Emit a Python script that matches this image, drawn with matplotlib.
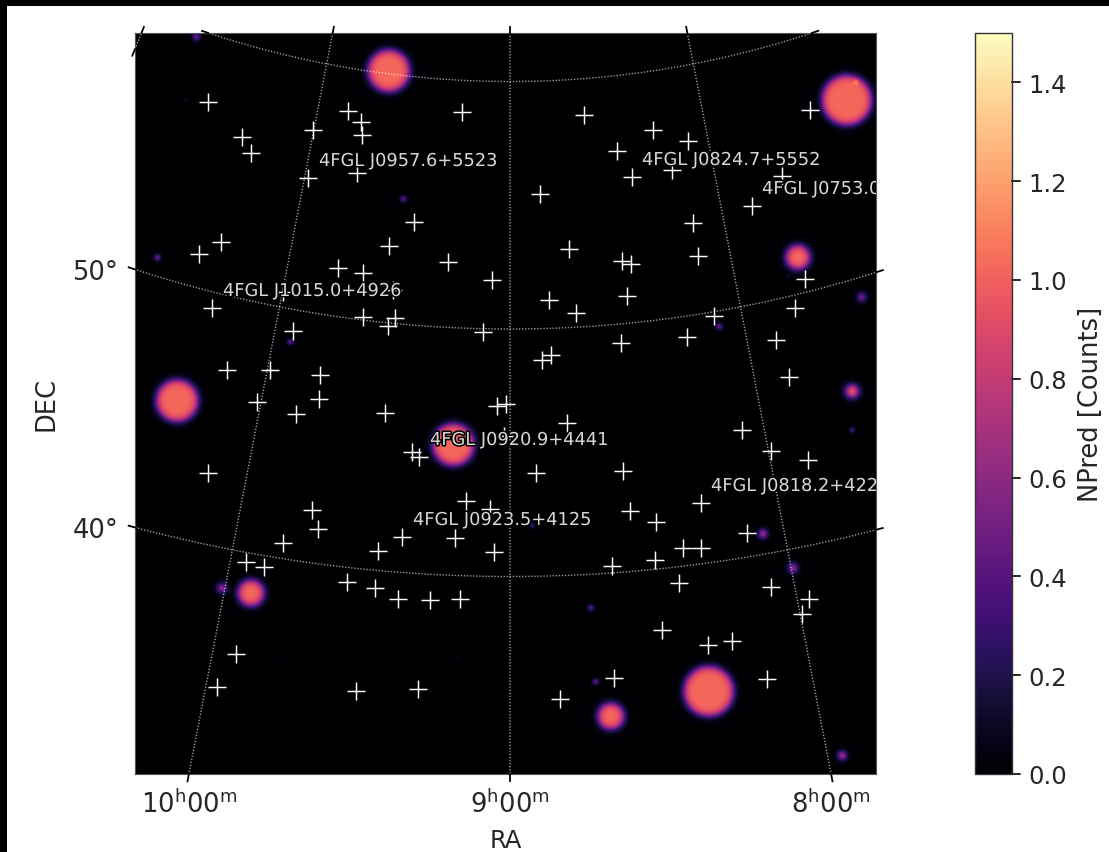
import numpy as np
import matplotlib
matplotlib.use('Agg')
import matplotlib.pyplot as plt
import matplotlib.patheffects as pe
from matplotlib.patches import Rectangle

# all map positions are in map pixels, same frame as the image array
map_xlim = (135, 876)
map_ylim = (775, 34)

# catalogue sources (the white crosses)
source_x = [208.3, 241.7, 250.7, 313, 308.3, 348.3, 360.7, 361.7, 357, 462.3, 414.3, 389, 447.7, 492.3,
            338.3, 362.7, 220.7, 198.7, 212.3, 363.3, 394.7, 388.3, 292.7, 483.3, 393, 283,
            583.7, 653.3, 687.7, 617.3, 631.7, 671.7, 539.7, 810, 782.3, 751.7, 693.3, 568.7, 698,
            621.7, 631, 627.3, 548.7, 576.3, 714.3, 805, 795, 686.7, 621, 550.7, 542.3, 776, 789,
            497.3, 505.7, 566.7, 742.3, 771, 808, 535.7, 622.7, 701, 630, 656.3, 747.3, 683.3, 701,
            654.7, 612.3, 678.7, 771, 809.3, 802.3, 662, 707.7, 731.7, 614, 766.7, 559.7,
            227.3, 270.3, 320, 318.7, 257, 296.3, 385.3, 412, 419.3, 207.7, 465.7, 490, 312.3, 318.3,
            282.7, 401.7, 377.7, 454.7, 494.3, 245.7, 263.7, 347.3, 374.7, 398.3, 430.3, 459.7,
            236.3, 217, 356.3, 418, 504]
source_y = [103.3, 138.3, 154, 131.3, 179.3, 112.3, 123, 136.3, 174, 113.3, 222.7, 247.3, 263.3, 280.7,
            268.7, 274, 243.3, 255.3, 309.3, 318, 319, 327.3, 331.7, 332.7, 291, 293,
            116.3, 131, 142.3, 151.7, 178, 171.3, 195, 110.7, 177.3, 206.7, 224, 249.7, 257,
            262, 265, 296.7, 300.7, 314, 316.7, 280, 309, 337.7, 344, 356, 360.7, 341, 377.7,
            406.7, 405, 424.3, 431, 451.7, 461.3, 474.3, 472.3, 504.3, 511.7, 522.7, 534.3, 549, 549,
            560.7, 567.3, 584.3, 588.3, 600, 615, 630.7, 645.7, 642.3, 679.3, 680.3, 700.3,
            371, 370.7, 376.3, 400.3, 403.3, 415, 414.3, 452.7, 458.3, 474, 502.3, 510, 510.7, 530,
            544, 537.7, 551.7, 539.3, 552.7, 563.3, 568.3, 583, 589, 600.3, 600.7, 600.3,
            655, 688.3, 691.7, 690.3, 437]

# predicted counts blobs: centre, radius, peak
blob_x = [388.7, 847.3, 856.7, 798.3, 862.3, 719.3, 403.3, 157, 196, 185.7, 176.7, 453.3, 290, 221.7,
          250.7, 280, 457.7, 852.7, 852.7, 763.3, 793.3, 532.3, 788.3, 591, 595.7, 611, 709, 842.7]
blob_y = [71.3, 100.7, 82.3, 258, 298, 327.3, 199.7, 258.3, 37.3, 100.7, 401.7, 445.7, 342.7, 589.3,
          594.3, 658.3, 659, 392.3, 431, 535, 569.3, 526.7, 277, 609, 683, 717.7, 692.7, 757]
blob_r = [25, 29, 4, 16, 7, 5, 5, 5, 6, 4, 25, 25, 4.5, 7.5,
          17, 3, 3, 10, 4, 7, 7.5, 3.5, 3, 4.5, 4.5, 17, 29, 7]
blob_peak = [1.03, 1.03, 0.25, 1.03, 0.5, 0.45, 0.4, 0.45, 0.45, 0.12, 1.03, 1.03, 0.45, 0.6,
             1.03, 0.08, 0.08, 0.95, 0.35, 0.65, 0.6, 0.35, 0.12, 0.45, 0.45, 1.03, 1.03, 0.65]

# source names
label_text = ['4FGL J0957.6+5523', '4FGL J0824.7+5552', '4FGL J0753.0+5353', '4FGL J1015.0+4926',
              '4FGL J0920.9+4441', '4FGL J0923.5+4125', '4FGL J0818.2+4222']
label_x = [319, 642, 762, 223, 430, 413, 711]
label_y = [162, 161, 190, 292, 441, 521, 487]

# graticule
ra_lines = [120, 135, 150, 165]
dec_lines = [40, 50, 60]
ra_ticks = [150, 135, 120]
ra_tick_labels = [r'$10^{\mathrm{h}}00^{\mathrm{m}}$', r'$9^{\mathrm{h}}00^{\mathrm{m}}$', r'$8^{\mathrm{h}}00^{\mathrm{m}}$']
dec_ticks = [50, 40]
dec_tick_labels = ['50°', '40°']
cbar_ticks = [0.0, 0.2, 0.4, 0.6, 0.8, 1.0, 1.2, 1.4]


def conic_project(ra, dec):
    # equidistant conic into map pixels, the pole sits above the frame
    rho = 1210.0 - 24.75 * (np.asarray(dec) - 50.0)
    theta = np.radians(0.732 * (np.asarray(ra) - 135.0))
    return 510.0 - rho * np.sin(theta), -880.0 + rho * np.cos(theta)


def edge_crossing(x, y, values, limit):
    # where a graticule curve crosses an axes edge
    i = np.argmin(np.abs(values - limit))
    return x[i], y[i]


# build the counts map
xx, yy = np.meshgrid(np.arange(map_xlim[0], map_xlim[1] + 1), np.arange(map_ylim[1], map_ylim[0] + 1))
counts = np.zeros(xx.shape)
for bx, by, br, bp in zip(blob_x, blob_y, blob_r, blob_peak):
    dist = np.hypot(xx - bx, yy - by)
    w = min(4.5, 0.5 * br)
    edge = 0.5 * (1 - np.tanh((dist - (br - w)) / w))
    counts += bp * edge / (0.5 * (1 + np.tanh((br - w) / w)))

fig = plt.figure(figsize=(11.09, 8.53), dpi=100)
ax = fig.add_axes([135 / 1109, 78 / 853, 741 / 1109, 741 / 853])
im = ax.imshow(counts, cmap='magma', vmin=0, vmax=1.5, origin='upper', interpolation='bilinear',
               extent=(map_xlim[0], map_xlim[1], map_ylim[0], map_ylim[1]), aspect='auto')
ax.set_xlim(*map_xlim)
ax.set_ylim(*map_ylim)


# graticule lines, with little black ticks where they leave the frame
def draw_curve(x, y):
    ax.plot(x, y, color='white', lw=1.0, ls=(0, (1, 1.2)), alpha=0.6, zorder=2)
    out = np.maximum.reduce([map_xlim[0] - x, x - map_xlim[1], map_ylim[1] - y, y - map_ylim[0]])
    s = np.concatenate([[0], np.cumsum(np.hypot(np.diff(x), np.diff(y)))])
    for j in np.flatnonzero(np.diff(out > 0)):
        mask = (np.abs(s - s[j]) <= 7) & (out > 0)
        ax.plot(x[mask], y[mask], color='black', lw=1.3, clip_on=False, zorder=3)


for ra in ra_lines:
    x, y = conic_project(np.full(1600, float(ra)), np.linspace(25, 75, 1600))
    draw_curve(x, y)
for dec in dec_lines:
    x, y = conic_project(np.linspace(95, 175, 3200), np.full(3200, float(dec)))
    draw_curve(x, y)

# tick labels sit on the edge crossings
xt = []
for ra in ra_ticks:
    x, y = conic_project(np.full(1600, float(ra)), np.linspace(25, 75, 1600))
    xt.append(edge_crossing(x, y, y, map_ylim[0])[0])
yt = []
for dec in dec_ticks:
    x, y = conic_project(np.linspace(120, 175, 3200), np.full(3200, float(dec)))
    yt.append(edge_crossing(x, y, x, map_xlim[0])[1])
ax.set_xticks(xt)
ax.set_xticklabels(ra_tick_labels)
ax.set_yticks(yt)
ax.set_yticklabels(dec_tick_labels)
ax.tick_params(axis='both', length=0, labelsize=18.5, colors='#262626')
ax.tick_params(axis='x', pad=11)
ax.tick_params(axis='y', pad=12)
ax.set_xlabel('RA', fontsize=17.5, color='#262626', labelpad=7.5)
ax.set_ylabel('DEC', fontsize=18.5, color='#262626', labelpad=9)
for s in ax.spines.values():
    s.set_linewidth(0.8)
    s.set_color('#555555')

ax.plot(source_x, source_y, ls='none', marker='+', ms=13.5, mew=1.05, color='white', zorder=4)

for name, lx, ly in zip(label_text, label_x, label_y):
    ax.text(lx, ly, name, color='#d8d8d8', fontsize=12.8, va='center', ha='left', clip_on=True, zorder=5,
            path_effects=[pe.withStroke(linewidth=2.2, foreground='black')])

# colour bar
cax = fig.add_axes([975 / 1109, 78 / 853, 37 / 1109, 741 / 853])
cbar = fig.colorbar(im, cax=cax)
cbar.set_ticks(cbar_ticks)
cbar.ax.tick_params(axis='y', which='major', direction='out', right=True, length=5.8, width=1.2,
                    labelsize=17.5, pad=6, color='#262626', labelcolor='#262626')
# the default tick marks do not show up here, so draw them by hand
for v in cbar_ticks:
    cbar.ax.plot([1, 1.22], [v, v], transform=cbar.ax.get_yaxis_transform(), color='#262626', lw=1.2,
                 clip_on=False, zorder=10)
cbar.set_label('NPred [Counts]', fontsize=18.5, color='#262626', labelpad=8)
cbar.outline.set_linewidth(1.0)
cbar.outline.set_edgecolor('#333333')

# black strips along top and left of the screenshot
fig.add_artist(Rectangle((0, 1 - 7 / 853), 1, 7 / 853, transform=fig.transFigure, color='black', lw=0))
fig.add_artist(Rectangle((0, 0), 7 / 1109, 1, transform=fig.transFigure, color='black', lw=0))

fig.savefig('out.png', dpi=100)
